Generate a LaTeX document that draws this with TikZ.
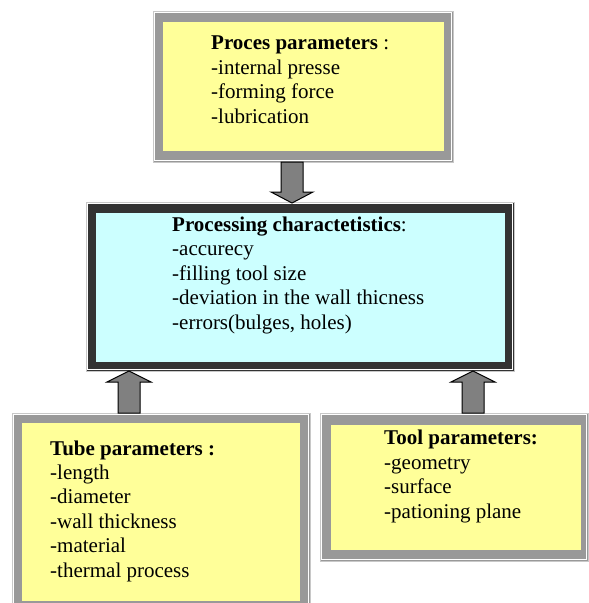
\documentclass[tikz,border=0pt]{standalone}
\usepackage{fontspec}
\setmainfont{Liberation Serif}
\usetikzlibrary{calc}
\definecolor{paleyellow}{HTML}{FFFF99}
\definecolor{palecyan}{HTML}{CCFFFF}
\definecolor{framegray}{HTML}{999999}
\definecolor{edgegray}{HTML}{C8C8C8}
\definecolor{darkframe}{HTML}{333333}
\definecolor{arrowgray}{HTML}{808080}

\tikzset{
  framebox/.style={rectangle, inner sep=0pt, draw=edgegray, line width=1pt, fill=framegray},
  darkbox/.style={rectangle, inner sep=0pt, draw=edgegray, line width=1pt, fill=darkframe},
  boxtext/.style={anchor=base west, align=left, inner sep=0pt, font=\fontsize{21}{24.4}\selectfont},
  blockarrow/.style={draw=black, line width=1pt, fill=arrowgray, line join=miter}
}

\begin{document}
\begin{tikzpicture}[x=1pt, y=-1pt]
\useasboundingbox (0,0) rectangle (589,603);
\clip (0,0) rectangle (589,603);

% process parameters
\node[framebox, minimum width=300pt, minimum height=151pt] (proces) at (303,86.5) {};
\draw[white, line width=1pt] ($(proces.north west)+(2,2)$) rectangle ($(proces.south east)+(-2,-2)$);
\fill[paleyellow] ($(proces.north west)+(10,11)$) rectangle ($(proces.south east)+(-10,-12)$);
% (base = last line)
\node[boxtext] (procestext) at (211,123) {\textbf{Proces parameters} :\\-internal presse\\-forming force\\-lubrication};

% processing characteristics
\node[darkbox, minimum width=428pt, minimum height=169pt] (processing) at (300,286.5) {};
\draw[white, line width=1pt] ($(processing.north west)+(2,2)$) rectangle ($(processing.south east)+(-2,-2)$);
\fill[palecyan] ($(processing.north west)+(10,11)$) rectangle ($(processing.south east)+(-10,-10)$);
\node[boxtext] (processingtext) at (172,329) {\textbf{Processing charactetistics}:\\-accurecy\\-filling tool size\\-deviation in the wall thicness\\-errors(bulges, holes)};

% tube parameters
\node[framebox, minimum width=298pt, minimum height=198pt] (tube) at (161,512) {};
\draw[white, line width=1pt] ($(tube.north west)+(2,2)$) rectangle ($(tube.south east)+(-2,-2)$);
\fill[paleyellow] ($(tube.north west)+(10,10)$) rectangle ($(tube.south east)+(-11,-11)$);
\node[boxtext] (tubetext) at (50,577) {\textbf{Tube parameters :}\\-length\\-diameter\\-wall thickness\\-material\\-thermal process};

% tool parameters
\node[framebox, minimum width=268pt, minimum height=148pt] (tool) at (454,487) {};
\draw[white, line width=1pt] ($(tool.north west)+(2,2)$) rectangle ($(tool.south east)+(-2,-2)$);
\fill[paleyellow] ($(tool.north west)+(11,12)$) rectangle ($(tool.south east)+(-8,-12)$);
\node[boxtext] (tooltext) at (384,518) {\textbf{Tool parameters:}\\-geometry\\-surface\\-pationing plane};

% arrows
\coordinate (downtail) at (292,162);
\coordinate (downtip) at (292,203);
\draw[blockarrow] ($(downtail)+(-11,0)$) -- ($(downtip)+(-11,-11)$) -- ($(downtip)+(-21,-11)$) -- (downtip)
  -- ($(downtip)+(21,-11)$) -- ($(downtip)+(11,-11)$) -- ($(downtail)+(11,0)$) -- cycle;

\coordinate (tubetail) at (129,413);
\coordinate (tubetip) at (129,371);
\draw[blockarrow] ($(tubetail)+(-11,0)$) -- ($(tubetip)+(-11,11)$) -- ($(tubetip)+(-22,11)$) -- (tubetip)
  -- ($(tubetip)+(22,11)$) -- ($(tubetip)+(11,11)$) -- ($(tubetail)+(11,0)$) -- cycle;

\coordinate (tooltail) at (473,413);
\coordinate (tooltip) at (473,371);
\draw[blockarrow] ($(tooltail)+(-11,0)$) -- ($(tooltip)+(-11,11)$) -- ($(tooltip)+(-22,11)$) -- (tooltip)
  -- ($(tooltip)+(22,11)$) -- ($(tooltip)+(11,11)$) -- ($(tooltail)+(11,0)$) -- cycle;

\end{tikzpicture}
\end{document}
